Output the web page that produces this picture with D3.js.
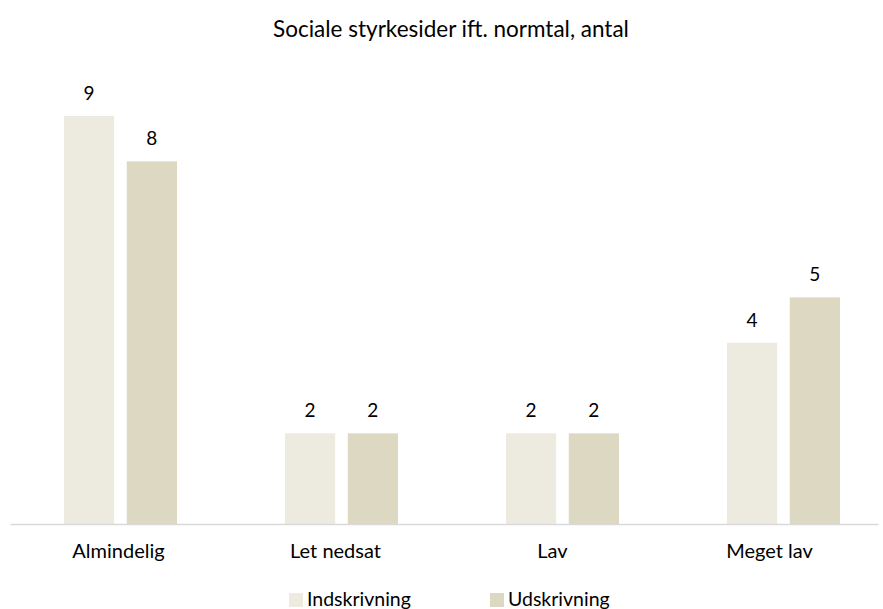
<!DOCTYPE html>
<html>
<head>
<meta charset="utf-8">
<script src="https://cdn.jsdelivr.net/npm/d3@7"></script>
<style>
  html, body { margin: 0; padding: 0; background: #fff; }
  svg { display: block; font-family: Lato, "Open Sans", sans-serif; }
</style>
</head>
<body>
<svg id="chart" width="883" height="609"></svg>
<script>
const title = "Sociale styrkesider ift. normtal, antal";
const categories = ["Almindelig", "Let nedsat", "Lav", "Meget lav"];
const seriesNames = ["Indskrivning", "Udskrivning"];
const indskrivning = [9, 2, 2, 4];
const udskrivning = [8, 2, 2, 5];
const colors = ["#EDEAE0", "#DDD8C2"];

const seriesValues = [indskrivning, udskrivning];
const data = categories.map((c, i) => ({
  category: c,
  values: seriesNames.map((s, j) => ({ series: s, value: seriesValues[j][i] }))
}));

const svg = d3.select("#chart");
const baseY = 524;

const y = d3.scaleLinear().domain([0, 10]).range([baseY, 70.7]);
const xAxisScale = d3.scaleBand().domain(categories).range([10, 878]);
const x0 = d3.scaleBand().domain(categories).range([10, 894]);
const x1 = d3.scaleBand().domain(seriesNames).range([54, 167]).paddingInner(0.2);
const color = d3.scaleOrdinal().domain(seriesNames).range(colors);

// title
svg.append("text")
  .attr("x", 451).attr("y", 37)
  .attr("text-anchor", "middle")
  .attr("font-size", 22.5)
  .attr("fill", "#000")
  .text(title);

// bars
const groups = svg.append("g").selectAll("g")
  .data(data).join("g")
  .attr("transform", d => `translate(${x0(d.category)},0)`);

groups.selectAll("rect")
  .data(d => d.values).join("rect")
  .attr("x", d => x1(d.series))
  .attr("width", x1.bandwidth())
  .attr("y", d => y(d.value))
  .attr("height", d => baseY - y(d.value))
  .attr("fill", d => color(d.series));

groups.selectAll("text.val")
  .data(d => d.values).join("text")
  .attr("class", "val")
  .attr("x", d => x1(d.series) + x1.bandwidth() / 2)
  .attr("y", d => y(d.value) - 16)
  .attr("text-anchor", "middle")
  .attr("font-size", 19)
  .attr("fill", "#000")
  .text(d => d.value);

// x axis
const axis = svg.append("g")
  .attr("transform", `translate(0,${baseY})`)
  .call(d3.axisBottom(xAxisScale).tickSize(0).tickPadding(19.5));
axis.select(".domain").attr("stroke", "#D9D9D9").attr("stroke-width", 1.5);
axis.selectAll(".tick text")
  .attr("font-size", 20)
  .attr("font-family", "Lato, 'Open Sans', sans-serif")
  .attr("fill", "#000");

// legend
const legendX = [289, 490];
const legend = svg.append("g").selectAll("g")
  .data(seriesNames).join("g")
  .attr("transform", (d, i) => `translate(${legendX[i]},593)`);
legend.append("rect")
  .attr("width", 14).attr("height", 14)
  .attr("fill", d => color(d));
legend.append("text")
  .attr("x", 18).attr("y", 13)
  .attr("font-size", 19.5)
  .attr("fill", "#000")
  .text(d => d);
</script>
</body>
</html>
